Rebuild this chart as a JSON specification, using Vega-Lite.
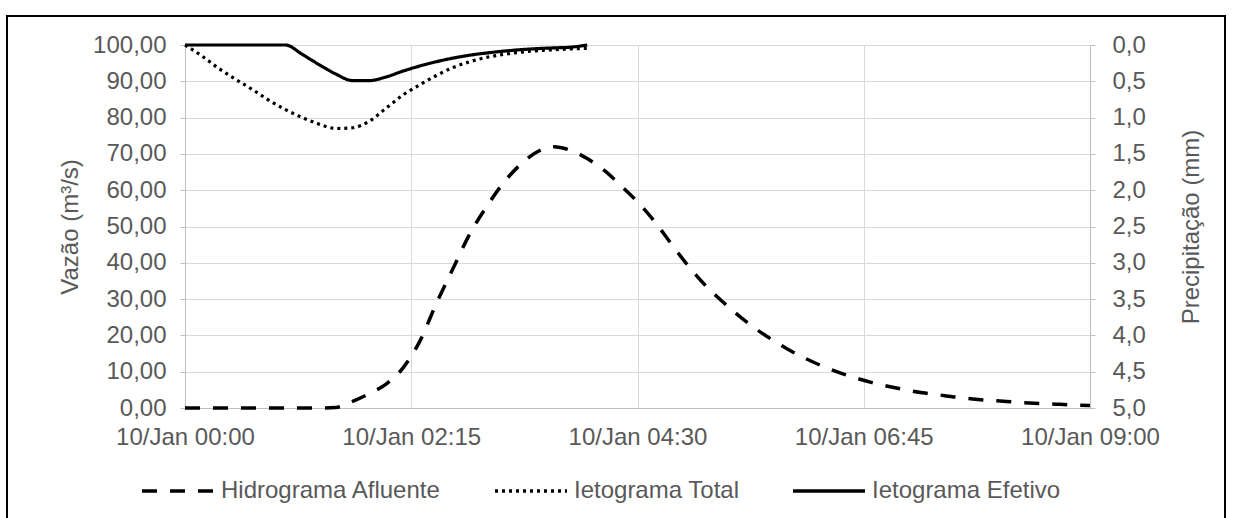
{
  "$schema": "https://vega.github.io/schema/vega-lite/v6.json",
  "width": 1218,
  "height": 505,
  "autosize": "none",
  "padding": {"left": 7, "top": 16, "right": 8, "bottom": -3},
  "background": "white",
  "config": {
    "font": "Liberation Sans",
    "view": {"stroke": "#000000", "strokeWidth": 2},
    "axis": {
      "labelFont": "Liberation Sans",
      "labelFontSize": 24,
      "labelColor": "#595959",
      "titleFont": "Liberation Sans",
      "titleFontSize": 24,
      "titleFontWeight": "normal",
      "titleColor": "#595959",
      "gridColor": "#d9d9d9",
      "gridWidth": 1,
      "domainColor": "#bfbfbf",
      "domainWidth": 1,
      "tickColor": "#bfbfbf",
      "labelFlush": false,
      "labelOverlap": false,
      "labelLimit": 400
    },
    "legend": {
      "labelFont": "Liberation Sans",
      "labelFontSize": 24,
      "labelColor": "#595959",
      "labelLimit": 400,
      "labelOffset": 5,
      "columnPadding": 46,
      "padding": 0,
      "symbolType": "stroke",
      "symbolSize": 5184,
      "symbolStrokeWidth": 3.5,
      "symbolStrokeColor": "#000000"
    }
  },
  "datasets": {
    "hidrograma": [
      {"hora": "2020-01-10T00:00:00", "vazao": 0},
      {"hora": "2020-01-10T00:10:00", "vazao": 0},
      {"hora": "2020-01-10T00:20:00", "vazao": 0},
      {"hora": "2020-01-10T00:30:00", "vazao": 0},
      {"hora": "2020-01-10T00:40:00", "vazao": 0},
      {"hora": "2020-01-10T00:50:00", "vazao": 0},
      {"hora": "2020-01-10T01:00:00", "vazao": 0},
      {"hora": "2020-01-10T01:10:00", "vazao": 0},
      {"hora": "2020-01-10T01:20:00", "vazao": 0},
      {"hora": "2020-01-10T01:30:00", "vazao": 0.15},
      {"hora": "2020-01-10T01:40:00", "vazao": 1.8},
      {"hora": "2020-01-10T01:50:00", "vazao": 4.0},
      {"hora": "2020-01-10T02:00:00", "vazao": 6.6},
      {"hora": "2020-01-10T02:10:00", "vazao": 11.0},
      {"hora": "2020-01-10T02:20:00", "vazao": 18.3},
      {"hora": "2020-01-10T02:30:00", "vazao": 28.8},
      {"hora": "2020-01-10T02:40:00", "vazao": 38.5},
      {"hora": "2020-01-10T02:50:00", "vazao": 48.0},
      {"hora": "2020-01-10T03:00:00", "vazao": 55.5},
      {"hora": "2020-01-10T03:10:00", "vazao": 62.0},
      {"hora": "2020-01-10T03:20:00", "vazao": 67.0},
      {"hora": "2020-01-10T03:30:00", "vazao": 70.5},
      {"hora": "2020-01-10T03:40:00", "vazao": 72.0},
      {"hora": "2020-01-10T03:50:00", "vazao": 71.0},
      {"hora": "2020-01-10T04:00:00", "vazao": 68.7},
      {"hora": "2020-01-10T04:10:00", "vazao": 65.5},
      {"hora": "2020-01-10T04:20:00", "vazao": 61.3},
      {"hora": "2020-01-10T04:30:00", "vazao": 56.8},
      {"hora": "2020-01-10T04:40:00", "vazao": 51.5},
      {"hora": "2020-01-10T04:50:00", "vazao": 45.3},
      {"hora": "2020-01-10T05:00:00", "vazao": 39.3},
      {"hora": "2020-01-10T05:10:00", "vazao": 34.0},
      {"hora": "2020-01-10T05:20:00", "vazao": 29.6},
      {"hora": "2020-01-10T05:30:00", "vazao": 25.6},
      {"hora": "2020-01-10T05:40:00", "vazao": 22.0},
      {"hora": "2020-01-10T05:50:00", "vazao": 18.9},
      {"hora": "2020-01-10T06:00:00", "vazao": 16.1},
      {"hora": "2020-01-10T06:10:00", "vazao": 13.7},
      {"hora": "2020-01-10T06:20:00", "vazao": 11.6},
      {"hora": "2020-01-10T06:30:00", "vazao": 9.8},
      {"hora": "2020-01-10T06:40:00", "vazao": 8.3},
      {"hora": "2020-01-10T06:50:00", "vazao": 7.0},
      {"hora": "2020-01-10T07:00:00", "vazao": 5.9},
      {"hora": "2020-01-10T07:10:00", "vazao": 5.0},
      {"hora": "2020-01-10T07:20:00", "vazao": 4.2},
      {"hora": "2020-01-10T07:30:00", "vazao": 3.6},
      {"hora": "2020-01-10T07:40:00", "vazao": 3.0},
      {"hora": "2020-01-10T07:50:00", "vazao": 2.5},
      {"hora": "2020-01-10T08:00:00", "vazao": 2.1},
      {"hora": "2020-01-10T08:10:00", "vazao": 1.8},
      {"hora": "2020-01-10T08:20:00", "vazao": 1.5},
      {"hora": "2020-01-10T08:30:00", "vazao": 1.25},
      {"hora": "2020-01-10T08:40:00", "vazao": 1.05},
      {"hora": "2020-01-10T08:50:00", "vazao": 0.85},
      {"hora": "2020-01-10T09:00:00", "vazao": 0.7}
    ],
    "ietogramas": [
      {"serie": "Ietograma Total", "hora": "2020-01-10T00:00:00", "precip": 0.0},
      {"serie": "Ietograma Total", "hora": "2020-01-10T00:10:00", "precip": 0.15},
      {"serie": "Ietograma Total", "hora": "2020-01-10T00:20:00", "precip": 0.32},
      {"serie": "Ietograma Total", "hora": "2020-01-10T00:30:00", "precip": 0.47},
      {"serie": "Ietograma Total", "hora": "2020-01-10T00:40:00", "precip": 0.61},
      {"serie": "Ietograma Total", "hora": "2020-01-10T00:50:00", "precip": 0.76},
      {"serie": "Ietograma Total", "hora": "2020-01-10T01:00:00", "precip": 0.89},
      {"serie": "Ietograma Total", "hora": "2020-01-10T01:10:00", "precip": 1.0},
      {"serie": "Ietograma Total", "hora": "2020-01-10T01:20:00", "precip": 1.09},
      {"serie": "Ietograma Total", "hora": "2020-01-10T01:30:00", "precip": 1.15},
      {"serie": "Ietograma Total", "hora": "2020-01-10T01:40:00", "precip": 1.14},
      {"serie": "Ietograma Total", "hora": "2020-01-10T01:50:00", "precip": 1.05},
      {"serie": "Ietograma Total", "hora": "2020-01-10T02:00:00", "precip": 0.87},
      {"serie": "Ietograma Total", "hora": "2020-01-10T02:10:00", "precip": 0.69},
      {"serie": "Ietograma Total", "hora": "2020-01-10T02:20:00", "precip": 0.55},
      {"serie": "Ietograma Total", "hora": "2020-01-10T02:30:00", "precip": 0.42},
      {"serie": "Ietograma Total", "hora": "2020-01-10T02:40:00", "precip": 0.31},
      {"serie": "Ietograma Total", "hora": "2020-01-10T02:50:00", "precip": 0.23},
      {"serie": "Ietograma Total", "hora": "2020-01-10T03:00:00", "precip": 0.17},
      {"serie": "Ietograma Total", "hora": "2020-01-10T03:10:00", "precip": 0.13},
      {"serie": "Ietograma Total", "hora": "2020-01-10T03:20:00", "precip": 0.10},
      {"serie": "Ietograma Total", "hora": "2020-01-10T03:30:00", "precip": 0.08},
      {"serie": "Ietograma Total", "hora": "2020-01-10T03:40:00", "precip": 0.065},
      {"serie": "Ietograma Total", "hora": "2020-01-10T03:50:00", "precip": 0.055},
      {"serie": "Ietograma Total", "hora": "2020-01-10T04:00:00", "precip": 0.045},
      {"serie": "Ietograma Efetivo", "hora": "2020-01-10T00:00:00", "precip": 0.0},
      {"serie": "Ietograma Efetivo", "hora": "2020-01-10T00:10:00", "precip": 0.0},
      {"serie": "Ietograma Efetivo", "hora": "2020-01-10T00:20:00", "precip": 0.0},
      {"serie": "Ietograma Efetivo", "hora": "2020-01-10T00:30:00", "precip": 0.0},
      {"serie": "Ietograma Efetivo", "hora": "2020-01-10T00:40:00", "precip": 0.0},
      {"serie": "Ietograma Efetivo", "hora": "2020-01-10T00:50:00", "precip": 0.0},
      {"serie": "Ietograma Efetivo", "hora": "2020-01-10T01:00:00", "precip": 0.0},
      {"serie": "Ietograma Efetivo", "hora": "2020-01-10T01:10:00", "precip": 0.13},
      {"serie": "Ietograma Efetivo", "hora": "2020-01-10T01:20:00", "precip": 0.27},
      {"serie": "Ietograma Efetivo", "hora": "2020-01-10T01:30:00", "precip": 0.40},
      {"serie": "Ietograma Efetivo", "hora": "2020-01-10T01:40:00", "precip": 0.49},
      {"serie": "Ietograma Efetivo", "hora": "2020-01-10T01:50:00", "precip": 0.49},
      {"serie": "Ietograma Efetivo", "hora": "2020-01-10T02:00:00", "precip": 0.44},
      {"serie": "Ietograma Efetivo", "hora": "2020-01-10T02:10:00", "precip": 0.36},
      {"serie": "Ietograma Efetivo", "hora": "2020-01-10T02:20:00", "precip": 0.29},
      {"serie": "Ietograma Efetivo", "hora": "2020-01-10T02:30:00", "precip": 0.23},
      {"serie": "Ietograma Efetivo", "hora": "2020-01-10T02:40:00", "precip": 0.18},
      {"serie": "Ietograma Efetivo", "hora": "2020-01-10T02:50:00", "precip": 0.14},
      {"serie": "Ietograma Efetivo", "hora": "2020-01-10T03:00:00", "precip": 0.11},
      {"serie": "Ietograma Efetivo", "hora": "2020-01-10T03:10:00", "precip": 0.085},
      {"serie": "Ietograma Efetivo", "hora": "2020-01-10T03:20:00", "precip": 0.065},
      {"serie": "Ietograma Efetivo", "hora": "2020-01-10T03:30:00", "precip": 0.05},
      {"serie": "Ietograma Efetivo", "hora": "2020-01-10T03:40:00", "precip": 0.04},
      {"serie": "Ietograma Efetivo", "hora": "2020-01-10T03:50:00", "precip": 0.03},
      {"serie": "Ietograma Efetivo", "hora": "2020-01-10T04:00:00", "precip": 0.0}
    ]
  },
  "layer": [
    {
      "data": {"name": "hidrograma"},
      "mark": {"type": "line", "color": "#000000", "strokeWidth": 3.5, "interpolate": "monotone", "strokeCap": "butt"},
      "encoding": {
        "x": {
          "field": "hora",
          "type": "temporal",
          "scale": {
            "domain": [
              {"year": 2020, "month": 1, "date": 10, "hours": 0, "minutes": 0},
              {"year": 2020, "month": 1, "date": 10, "hours": 9, "minutes": 0}
            ],
            "range": [178, 1083]
          },
          "axis": {
            "orient": "top",
            "offset": -29,
            "values": [
              {"year": 2020, "month": 1, "date": 10, "hours": 0, "minutes": 0},
              {"year": 2020, "month": 1, "date": 10, "hours": 2, "minutes": 15},
              {"year": 2020, "month": 1, "date": 10, "hours": 4, "minutes": 30},
              {"year": 2020, "month": 1, "date": 10, "hours": 6, "minutes": 45},
              {"year": 2020, "month": 1, "date": 10, "hours": 9, "minutes": 0}
            ],
            "grid": true,
            "labels": false,
            "ticks": false,
            "domain": false,
            "title": null
          }
        },
        "y": {
          "field": "vazao",
          "type": "quantitative",
          "scale": {"domain": [0, 100], "range": [392, 29], "nice": false, "zero": false},
          "axis": {
            "orient": "left",
            "offset": -178,
            "values": [0, 10, 20, 30, 40, 50, 60, 70, 80, 90, 100],
            "format": ".2f",
            "labelExpr": "replace(datum.label, '.', ',')",
            "grid": true,
            "ticks": true,
            "tickSize": 5,
            "labelPadding": 14,
            "title": "Vazão (m³/s)",
            "titlePadding": 10
          }
        },
        "strokeDash": {
          "datum": "Hidrograma Afluente",
          "type": "nominal",
          "scale": {
            "domain": ["Hidrograma Afluente", "Ietograma Total", "Ietograma Efetivo"],
            "range": [[15, 13], [3, 4], [1, 0]]
          },
          "legend": {
            "title": null,
            "orient": "none",
            "direction": "horizontal",
            "legendX": 133,
            "legendY": 437
          }
        }
      }
    },
    {
      "data": {"name": "ietogramas"},
      "mark": {"type": "line", "color": "#000000", "strokeWidth": 3.2, "interpolate": "monotone", "strokeCap": "butt"},
      "encoding": {
        "x": {
          "field": "hora",
          "type": "temporal",
          "axis": {
            "orient": "bottom",
            "offset": -113,
            "values": [
              {"year": 2020, "month": 1, "date": 10, "hours": 0, "minutes": 0},
              {"year": 2020, "month": 1, "date": 10, "hours": 2, "minutes": 15},
              {"year": 2020, "month": 1, "date": 10, "hours": 4, "minutes": 30},
              {"year": 2020, "month": 1, "date": 10, "hours": 6, "minutes": 45},
              {"year": 2020, "month": 1, "date": 10, "hours": 9, "minutes": 0}
            ],
            "format": "%d/%b %H:%M",
            "grid": false,
            "ticks": false,
            "labelPadding": 17,
            "title": null
          }
        },
        "y": {
          "field": "precip",
          "type": "quantitative",
          "scale": {"domain": [0, 5], "range": [29, 392], "nice": false, "zero": false},
          "axis": {
            "orient": "right",
            "offset": -135,
            "values": [0, 0.5, 1, 1.5, 2, 2.5, 3, 3.5, 4, 4.5, 5],
            "format": ".1f",
            "labelExpr": "replace(datum.label, '.', ',')",
            "grid": false,
            "ticks": true,
            "tickSize": 5,
            "labelPadding": 17,
            "title": "Precipitação (mm)",
            "titleAngle": 270,
            "titleBaseline": "top",
            "titlePadding": 34
          }
        },
        "strokeDash": {
          "field": "serie",
          "type": "nominal",
          "legend": {
            "title": null,
            "orient": "none",
            "direction": "horizontal",
            "legendX": 133,
            "legendY": 437
          }
        }
      }
    }
  ],
  "resolve": {
    "scale": {"y": "independent"},
    "axis": {"x": "independent", "y": "independent"}
  }
}
